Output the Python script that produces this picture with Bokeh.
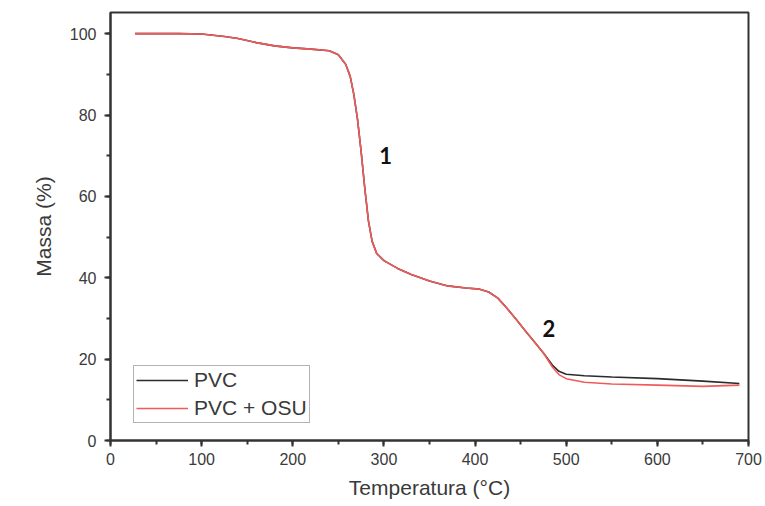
from bokeh.plotting import figure
from bokeh.models import Legend, LegendItem, SingleIntervalTicker, Range1d, Label
from bokeh.embed import file_html
from bokeh.resources import INLINE

# Thermogravimetric curves (temperature in °C, residual mass in %)
temperature = [27, 50, 75, 100, 125, 140, 160, 180, 200, 220, 240, 250, 258, 263,
               267, 271, 275, 279, 283, 287, 292, 300, 315, 330, 350, 370, 390,
               405, 415, 425, 435, 445, 455, 465, 475, 485, 492, 500, 520, 550,
               600, 650, 690]
mass_pvc = [100, 100, 100, 99.9, 99.3, 98.8, 97.8, 97.0, 96.5, 96.2, 95.8, 94.8,
            92.5, 89.5, 85, 79, 71, 62, 54, 49, 46, 44.2, 42.3, 40.8, 39.2, 38,
            37.5, 37.2, 36.5, 35, 32.5, 29.8, 27, 24.3, 21.5, 18.5, 17, 16.3,
            15.9, 15.6, 15.2, 14.6, 14.0]
mass_pvc_osu = [100, 100, 100, 99.9, 99.3, 98.8, 97.8, 97.0, 96.5, 96.2, 95.8,
                94.8, 92.5, 89.5, 85, 79, 71, 62, 54, 49, 46, 44.2, 42.3, 40.8,
                39.2, 38, 37.5, 37.2, 36.5, 35, 32.5, 29.8, 27, 24.3, 21.5, 18.0,
                16.2, 15.2, 14.3, 13.9, 13.6, 13.3, 13.6]

series_names = ["PVC", "PVC + OSU"]
x_label = "Temperatura (°C)"
y_label = "Massa (%)"

# Degradation stage markers
stage_labels = ["1", "2"]
stage_x = [302, 481]
stage_y = [70, 27.5]

TEXT = "#3a3a3a"
AXIS = "#333333"
TICK_FONT = "Liberation Sans"

p = figure(width=765, height=506, output_backend="svg", toolbar_location=None,
           x_range=Range1d(0, 700), y_range=Range1d(0, 105.2),
           min_border_left=110, min_border_right=17, min_border_top=12,
           min_border_bottom=66)
p.background_fill_color = "white"
p.border_fill_color = "white"
p.grid.visible = False
p.outline_line_color = AXIS
p.outline_line_width = 2

for ax, step in ((p.xaxis[0], 100), (p.yaxis[0], 20)):
    ax.ticker = SingleIntervalTicker(interval=step, num_minor_ticks=2)
    ax.axis_line_color = AXIS
    ax.axis_line_width = 2
    ax.major_tick_line_color = AXIS
    ax.major_tick_line_width = 2
    ax.major_tick_out = 6
    ax.major_tick_in = 0
    ax.minor_tick_line_color = AXIS
    ax.minor_tick_line_width = 2
    ax.minor_tick_out = 4
    ax.minor_tick_in = 0
    ax.major_label_text_font = TICK_FONT
    ax.major_label_text_font_size = "16px"
    ax.major_label_text_color = TEXT
    ax.axis_label_text_font = TICK_FONT
    ax.axis_label_text_font_size = "21px"
    ax.axis_label_text_font_style = "normal"
    ax.axis_label_text_color = TEXT

p.xaxis.axis_label = x_label
p.yaxis.axis_label = y_label
p.xaxis.major_label_standoff = 6
p.yaxis.major_label_standoff = 8
p.xaxis.axis_label_standoff = 8
p.yaxis.axis_label_standoff = 12

r_pvc = p.line(temperature, mass_pvc, line_color="#2b2b2b", line_width=1.6)
r_osu = p.line(temperature, mass_pvc_osu, line_color="#f25a5a", line_width=1.6)

for txt, tx, ty in zip(stage_labels, stage_x, stage_y):
    p.add_layout(Label(x=tx, y=ty, text=txt, text_font="Lato",
                       text_font_style="bold", text_font_size="22px",
                       text_color="#111111", text_align="center",
                       text_baseline="middle"))

legend = Legend(items=[LegendItem(label=series_names[0], renderers=[r_pvc]),
                       LegendItem(label=series_names[1], renderers=[r_osu])],
                location=(23, 17))
legend.label_text_font = TICK_FONT
legend.label_text_font_size = "21px"
legend.label_text_color = TEXT
legend.glyph_width = 52
legend.glyph_height = 20
legend.label_height = 20
legend.spacing = 4
legend.padding = 2
legend.margin = 0
legend.label_standoff = 6
legend.border_line_color = "#666666"
legend.border_line_width = 1.5
legend.background_fill_alpha = 1
p.add_layout(legend, "center")

open("out.html", "w").write(file_html(p, INLINE))
